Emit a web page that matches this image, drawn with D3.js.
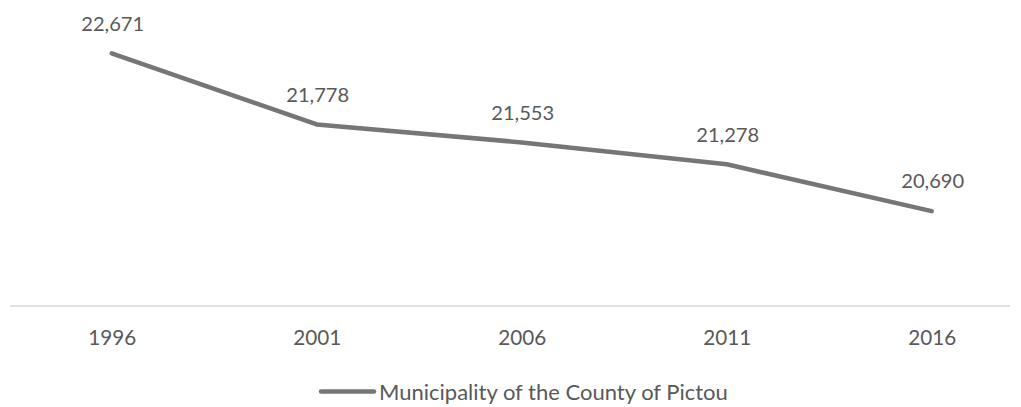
<!DOCTYPE html>
<html><head><meta charset="utf-8">
<script src="https://cdn.jsdelivr.net/npm/d3@7"></script>
<style>body{margin:0;background:#fff}svg{display:block}</style>
</head><body><svg id="c" width="1021" height="407"></svg>
<script>
const years = ["1996","2001","2006","2011","2016"];
const population = [22671,21778,21553,21278,20690];
const seriesName = "Municipality of the County of Pictou";

const svg = d3.select("#c");
const font = "Lato, 'Open Sans', sans-serif";
const textColor = "#595959";
const lineColor = "#767676";

// size a font so that a sample text reaches a measured width
function fitSize(sample, width){
  const t = svg.append("text").style("font-family",font).style("font-size","100px").text(sample);
  const w = t.node().getComputedTextLength();
  t.remove();
  return 100*width/w;
}
const tickSize = fitSize("1996", 48);
const labelSize = fitSize("22,671", 63);
const legendSize = fitSize(seriesName, 349);

const x = d3.scalePoint().domain(years).range([111.7, 931.7]);
const y = d3.scaleLinear().domain([19500, 23000]).range([306, 306 - 3500*0.07969]);

// axis baseline
svg.append("line").attr("x1",10).attr("x2",1010).attr("y1",306).attr("y2",306)
  .attr("stroke","#d9d9d9").attr("stroke-width",1.3);

const xAxis = d3.axisBottom(x).tickSize(0).tickPadding(0);
const gx = svg.append("g").attr("transform","translate(0,306)").call(xAxis);
gx.select(".domain").remove();
gx.selectAll("text").attr("y",32).attr("dy","0.36em")
  .style("font-family",font).style("font-size",tickSize+"px").attr("fill",textColor);

const data = years.map((yr,i)=>({yr, v: population[i]}));
svg.append("path").datum(data)
  .attr("d", d3.line().x(d=>x(d.yr)).y(d=>y(d.v)))
  .attr("fill","none").attr("stroke",lineColor).attr("stroke-width",4.5)
  .attr("stroke-linecap","round").attr("stroke-linejoin","round");

svg.selectAll("text.lbl").data(data).enter().append("text").attr("class","lbl")
  .attr("x",d=>x(d.yr)+1).attr("y",d=>y(d.v)-30).attr("dy","0.36em")
  .attr("text-anchor","middle").style("font-family",font).style("font-size",labelSize+"px")
  .attr("fill",textColor).text(d=>d3.format(",")(d.v));

// legend
const lg = svg.append("g");
lg.append("line").attr("x1",321).attr("x2",374).attr("y1",391.5).attr("y2",391.5)
  .attr("stroke",lineColor).attr("stroke-width",4.5).attr("stroke-linecap","round");
lg.append("text").attr("x",379).attr("y",392).attr("dy","0.36em")
  .style("font-family",font).style("font-size",legendSize+"px").attr("fill",textColor).text(seriesName);
</script></body></html>
